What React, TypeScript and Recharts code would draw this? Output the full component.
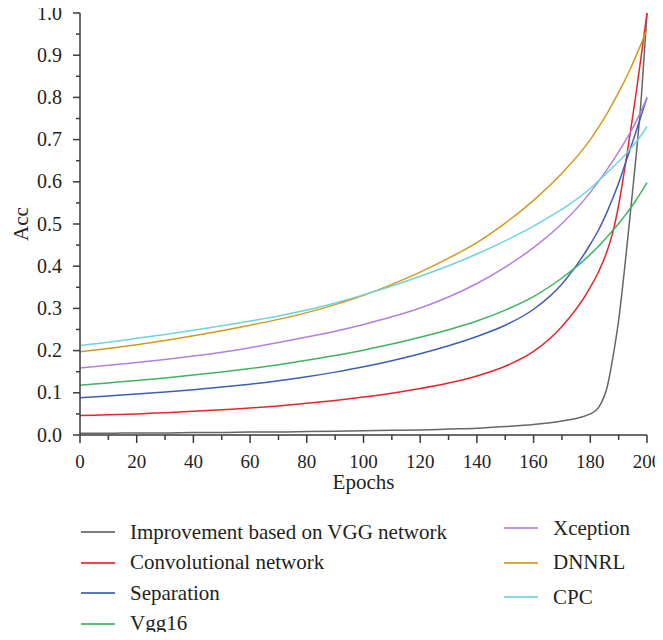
import { CartesianGrid, Legend, Line, LineChart, XAxis, YAxis } from "recharts";

const epochs = [0, 10, 20, 30, 40, 50, 60, 70, 80, 90, 100, 110, 120, 130, 140, 150, 160, 170, 180, 183, 186, 188, 190, 192, 194, 196, 198, 200];

const improvement = [0.004, 0.004, 0.005, 0.005, 0.006, 0.006, 0.007, 0.007, 0.008, 0.009, 0.01, 0.011, 0.012, 0.014, 0.016, 0.02, 0.025, 0.033, 0.05, 0.066, 0.115, 0.185, 0.272, 0.388, 0.518, 0.65, 0.8, 1.0];
const convolutional = [0.046, 0.048, 0.05, 0.053, 0.056, 0.06, 0.064, 0.069, 0.075, 0.082, 0.09, 0.099, 0.11, 0.123, 0.14, 0.163, 0.198, 0.257, 0.35, 0.388, 0.437, 0.482, 0.545, 0.625, 0.712, 0.803, 0.9, 1.0];
const separation = [0.088, 0.0925, 0.097, 0.102, 0.1075, 0.1135, 0.1205, 0.1285, 0.138, 0.149, 0.1615, 0.176, 0.1925, 0.2115, 0.2335, 0.26, 0.298, 0.358, 0.452, 0.487, 0.53, 0.562, 0.597, 0.636, 0.676, 0.716, 0.758, 0.8];
const vgg16 = [0.118, 0.1235, 0.129, 0.135, 0.142, 0.1495, 0.1575, 0.1665, 0.177, 0.1885, 0.201, 0.2155, 0.2315, 0.2495, 0.27, 0.296, 0.328, 0.372, 0.428, 0.448, 0.47, 0.485, 0.501, 0.518, 0.536, 0.555, 0.576, 0.598];
const xception = [0.159, 0.165, 0.172, 0.179, 0.187, 0.196, 0.207, 0.219, 0.232, 0.246, 0.262, 0.28, 0.301, 0.327, 0.359, 0.398, 0.444, 0.501, 0.575, 0.602, 0.63, 0.65, 0.671, 0.693, 0.716, 0.741, 0.769, 0.799];
const dnnrl = [0.197, 0.205, 0.214, 0.224, 0.235, 0.247, 0.26, 0.274, 0.29, 0.309, 0.331, 0.357, 0.386, 0.419, 0.456, 0.502, 0.556, 0.62, 0.7, 0.73, 0.763, 0.787, 0.812, 0.838, 0.866, 0.896, 0.928, 0.961];
const cpc = [0.212, 0.22, 0.229, 0.238, 0.248, 0.259, 0.27, 0.282, 0.296, 0.313, 0.332, 0.353, 0.376, 0.401, 0.429, 0.46, 0.495, 0.535, 0.584, 0.603, 0.622, 0.635, 0.648, 0.662, 0.677, 0.693, 0.711, 0.731];

const xTicks = [0, 10, 20, 30, 40, 50, 60, 70, 80, 90, 100, 110, 120, 130, 140, 150, 160, 170, 180, 190, 200];
const yTicks = [0, 0.05, 0.1, 0.15, 0.2, 0.25, 0.3, 0.35, 0.4, 0.45, 0.5, 0.55, 0.6, 0.65, 0.7, 0.75, 0.8, 0.85, 0.9, 0.95, 1.0];

const SERIES = [
  { key: "improvement", name: "Improvement based on VGG network", color: "#666666", values: improvement },
  { key: "convolutional", name: "Convolutional network", color: "#e8262a", values: convolutional },
  { key: "separation", name: "Separation", color: "#3b5fb8", values: separation },
  { key: "vgg16", name: "Vgg16", color: "#3db55e", values: vgg16 },
  { key: "xception", name: "Xception", color: "#b57ee0", values: xception },
  { key: "dnnrl", name: "DNNRL", color: "#d4991a", values: dnnrl },
  { key: "cpc", name: "CPC", color: "#6ed3da", values: cpc },
];

const data = epochs.map((epoch, i) => {
  const row: Record<string, number> = { epoch };
  SERIES.forEach((s) => (row[s.key] = s.values[i]));
  return row;
});

const FONT = '"Liberation Serif", "Times New Roman", serif';
const AXIS = "#3a3a3a";
const TEXT = "#231f20";

function XTick({ x, y, payload }: any) {
  const major = payload.value % 20 === 0;
  return (
    <g>
      <line x1={x} x2={x} y1={y} y2={y + (major ? 8 : 5)} stroke={AXIS} strokeWidth={1.5} />
      {major && (
        <text x={x} y={y + 33} textAnchor="middle" fontSize={19} fontFamily={FONT} fill={TEXT}>
          {payload.value}
        </text>
      )}
    </g>
  );
}

function YTick({ x, y, payload }: any) {
  const major = Math.round(payload.value * 100) % 10 === 0;
  return (
    <g>
      <line x1={x - (major ? 7 : 4)} x2={x} y1={y} y2={y} stroke={AXIS} strokeWidth={1.5} />
      {major && (
        <text x={x - 18} y={y + 6.5} textAnchor="end" fontSize={20} fontFamily={FONT} fill={TEXT}>
          {payload.value.toFixed(1)}
        </text>
      )}
    </g>
  );
}

function LegendItem({ name, color }: { name: string; color: string }) {
  return (
    <div style={{ display: "flex", alignItems: "center", height: "100%" }}>
      <div style={{ width: 34, height: 2, background: color, marginRight: 15, opacity: 0.85 }} />
      <span>{name}</span>
    </div>
  );
}

function ChartLegend() {
  const left = SERIES.slice(0, 4);
  const right = SERIES.slice(4);
  const base = { position: "absolute" as const, fontFamily: FONT, fontSize: 21, color: TEXT, whiteSpace: "nowrap" as const };
  return (
    <div style={{ position: "relative", width: 663, height: 125 }}>
      <div style={{ ...base, left: 81, top: 5 }}>
        {left.map((s) => (
          <div key={s.key} style={{ height: 30.5 }}>
            <LegendItem name={s.name} color={s.color} />
          </div>
        ))}
      </div>
      <div style={{ ...base, left: 504, top: -1 }}>
        {right.map((s) => (
          <div key={s.key} style={{ height: 34.5 }}>
            <LegendItem name={s.name} color={s.color} />
          </div>
        ))}
      </div>
    </div>
  );
}

export default function App() {
  return (
    <div style={{ margin: -8, background: "#fff", width: 663, height: 640 }}>
      <LineChart width={663} height={640} data={data} margin={{ top: 13, right: 16, bottom: 3, left: 0 }}>
        <CartesianGrid stroke="none" />
        <XAxis
          dataKey="epoch"
          type="number"
          domain={[0, 200]}
          ticks={xTicks}
          interval={0}
          height={77}
          tickSize={0}
          tickMargin={0}
          tickLine={false}
          tick={(p: any) => <XTick {...p} />}
          axisLine={{ stroke: AXIS, strokeWidth: 1.5 }}
          label={{ value: "Epochs", position: "insideBottom", offset: 23, fontSize: 21, fontFamily: FONT, fill: TEXT }}
        />
        <YAxis
          type="number"
          domain={[0, 1]}
          ticks={yTicks}
          interval={0}
          width={80}
          tickSize={0}
          tickMargin={0}
          tickLine={false}
          tick={(p: any) => <YTick {...p} />}
          axisLine={{ stroke: AXIS, strokeWidth: 1.5 }}
          label={{ value: "Acc", angle: -90, position: "insideLeft", offset: 21, fontSize: 21, fontFamily: FONT, fill: TEXT, style: { textAnchor: "middle" } }}
        />
        {SERIES.map((s) => (
          <Line
            key={s.key}
            type="monotone"
            dataKey={s.key}
            name={s.name}
            stroke={s.color}
            strokeWidth={1.5}
            dot={false}
            activeDot={false}
            isAnimationActive={false}
          />
        ))}
        <Legend verticalAlign="bottom" height={125} content={() => <ChartLegend />} />
      </LineChart>
    </div>
  );
}
